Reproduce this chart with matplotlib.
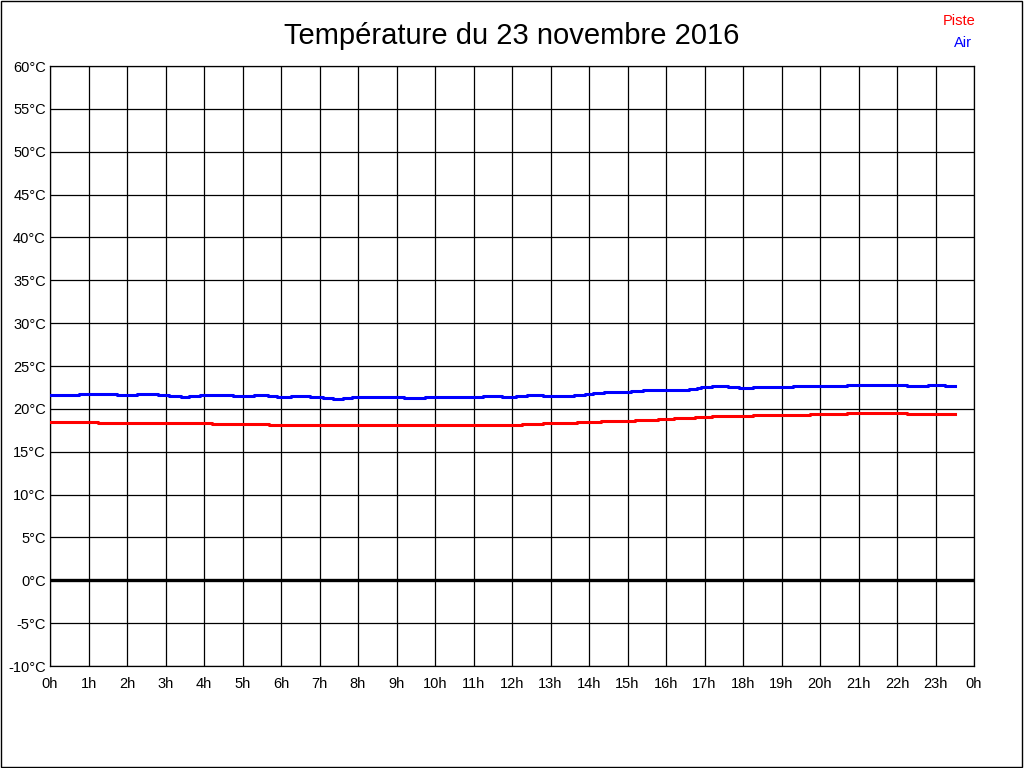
import matplotlib
matplotlib.use("Agg")
import matplotlib.pyplot as plt
from matplotlib.patches import Rectangle

plt.rcParams['font.family'] = ['Liberation Sans', 'DejaVu Sans']

# Air temperature (blue): hour where the value changes, value in °C
air_hours = [0.0, 0.75, 1.75, 2.25, 2.8, 3.1, 3.4, 3.6, 3.9, 4.75, 5.3, 5.65, 5.9,
             6.25, 6.75, 7.1, 7.35, 7.6, 7.85, 9.2, 9.75, 11.25, 11.75, 12.1, 12.4,
             12.8, 13.6, 13.9, 14.1, 14.4, 15.1, 15.4, 16.6, 16.8, 16.9, 17.2, 17.6,
             17.9, 18.25, 19.3, 20.7, 22.25, 22.8, 23.25, 23.5]
air_temp = [21.6, 21.75, 21.6, 21.75, 21.6, 21.5, 21.4, 21.5, 21.6, 21.5, 21.6, 21.5, 21.4,
            21.5, 21.4, 21.27, 21.15, 21.27, 21.4, 21.27, 21.4, 21.5, 21.4, 21.5, 21.6,
            21.5, 21.6, 21.75, 21.85, 22.0, 22.1, 22.2, 22.3, 22.45, 22.55, 22.7, 22.55,
            22.45, 22.55, 22.7, 22.8, 22.7, 22.8, 22.7, 22.7]

# Track temperature (red)
piste_hours = [0.0, 1.25, 4.2, 5.7, 12.26, 12.8, 13.7, 14.3, 15.2, 15.8, 16.2, 16.75,
               17.2, 18.25, 19.75, 20.7, 22.25, 23.5]
piste_temp = [18.47, 18.35, 18.24, 18.12, 18.24, 18.35, 18.47, 18.6, 18.7, 18.85, 18.94,
              19.05, 19.2, 19.3, 19.4, 19.5, 19.4, 19.4]

hour_ticks = list(range(25))
hour_labels = [f"{h % 24}h" for h in hour_ticks]
temp_ticks = list(range(-10, 61, 5))
temp_labels = [f"{t}°C" for t in temp_ticks]

fig = plt.figure(figsize=(10.24, 7.68), dpi=100)
ax = fig.add_axes([50 / 1024, 1 - 666 / 768, 924 / 1024, 600 / 768])

ax.plot(air_hours, air_temp, drawstyle="steps-post", color="#0000ff", linewidth=2.2, zorder=3)
ax.plot(piste_hours, piste_temp, drawstyle="steps-post", color="#ff0000", linewidth=2.2, zorder=3)
ax.axhline(0, color="black", linewidth=2.4, zorder=2)

ax.set_xlim(0, 24)
ax.set_ylim(-10, 60)
ax.set_xticks(hour_ticks)
ax.set_xticklabels(hour_labels)
ax.set_yticks(temp_ticks)
ax.set_yticklabels(temp_labels)
ax.tick_params(axis="x", length=0, pad=8, labelsize=10.5)
ax.tick_params(axis="y", length=0, pad=3, labelsize=10.5)
ax.grid(True, color="black", linewidth=0.9)
for s in ax.spines.values():
    s.set_color("black")
    s.set_linewidth(0.9)

fig.text(0.5, 1 - 36 / 768, "Température du 23 novembre 2016", ha="center", va="center", fontsize=21)
fig.text(975 / 1024, 1 - 21 / 768, "Piste", ha="right", va="center", fontsize=10.5, color="#ff0000")
fig.text(972 / 1024, 1 - 43 / 768, "Air", ha="right", va="center", fontsize=10.5, color="#0000ff")

fig.patches.append(Rectangle((0.0005, 0.0007), 0.998, 0.998, transform=fig.transFigure,
                             fill=False, edgecolor="black", linewidth=1))

fig.savefig("out.png", dpi=100)
